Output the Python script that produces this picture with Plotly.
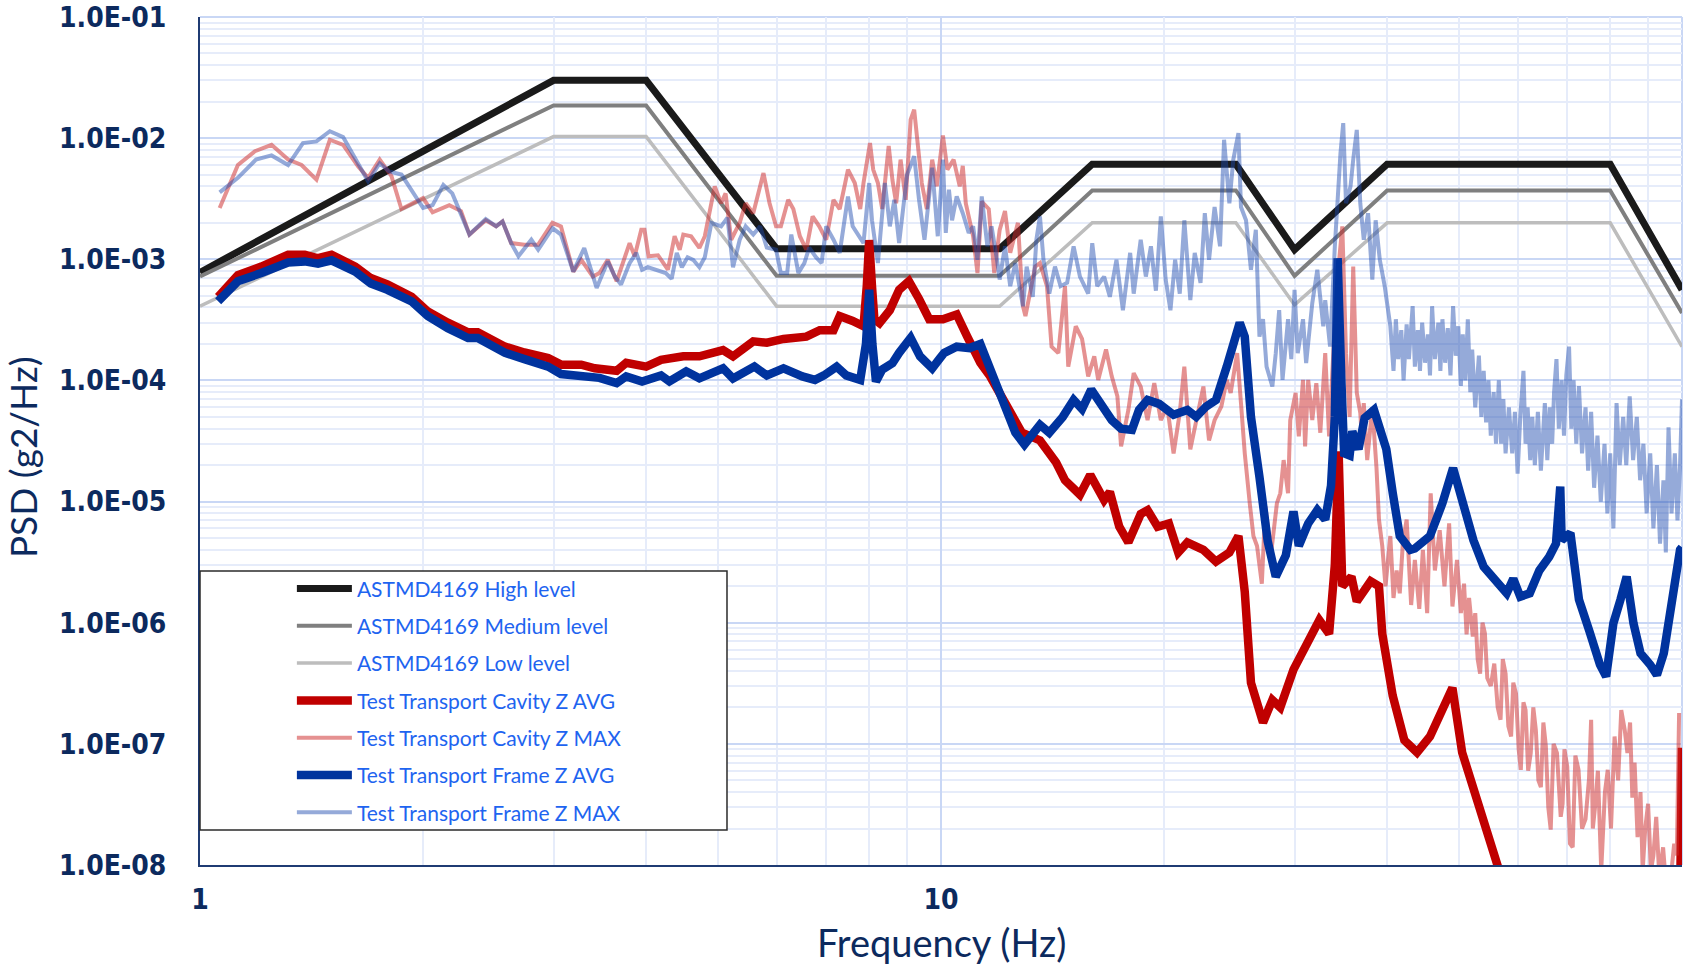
import plotly.graph_objects as go

# ---------------- data ----------------
astm_freq = [1, 3, 4, 6, 12, 16, 25, 30, 40, 80, 100]
astm_high = [0.00078, 0.030, 0.030, 0.00122, 0.00122, 0.0061, 0.0061, 0.0012, 0.0061, 0.0061, 0.00056]
astm_medium = [0.00072, 0.0186, 0.0186, 0.00073, 0.00073, 0.0037, 0.0037, 0.00073, 0.0037, 0.0037, 0.00036]
astm_low = [0.00041, 0.0103, 0.0103, 0.00041, 0.00041, 0.0020, 0.0020, 0.00042, 0.0020, 0.0020, 0.00019]

cavity_avg_f = [1.058, 1.125, 1.21, 1.315, 1.385, 1.443, 1.505, 1.62, 1.70, 1.79, 1.93, 2.03, 2.16, 2.30, 2.37,
                2.58, 2.74, 2.95, 3.07, 3.27, 3.41, 3.55, 3.65, 3.76, 4.0, 4.19, 4.49, 4.72, 5.08, 5.24, 5.58,
                5.82, 6.13, 6.58, 6.86, 7.16, 7.3, 7.6, 7.86, 7.94, 8.0, 8.07, 8.13, 8.26, 8.53, 8.78, 9.05, 9.34,
                9.64, 10.06, 10.5, 10.85, 11.3, 11.65, 12.0, 12.26, 12.86, 13.6, 14.3, 14.7, 15.4, 15.9, 16.6,
                16.9, 17.4, 17.9, 18.6, 19.0, 19.6, 20.3, 20.9, 21.5, 22.6, 23.5, 24.5, 25.2, 25.7, 26.2, 26.9,
                27.2, 28.0, 28.7, 29.9, 31.0, 32.4, 33.4, 34.0, 34.4, 34.8, 35.8, 36.4, 38.0, 39.0, 39.4, 40.7,
                42.2, 43.9, 45.7, 47.6, 49.0, 50.5, 52.8, 55.0, 57.0, 65.0, 80.0, 99.4, 100.0]
cavity_avg_v = [4.9e-4, 7.4e-4, 8.7e-4, 1.09e-3, 1.09e-3, 1.02e-3, 1.09e-3, 8.7e-4, 7.0e-4, 6.2e-4, 4.9e-4, 3.7e-4,
                3.0e-4, 2.5e-4, 2.5e-4, 1.9e-4, 1.7e-4, 1.53e-4, 1.35e-4, 1.35e-4, 1.26e-4, 1.2e-4, 1.2e-4, 1.4e-4,
                1.3e-4, 1.48e-4, 1.58e-4, 1.58e-4, 1.78e-4, 1.58e-4, 2.1e-4, 2.05e-4, 2.2e-4, 2.3e-4, 2.6e-4,
                2.6e-4, 3.4e-4, 3.1e-4, 2.8e-4, 6.0e-4, 1.44e-3, 6.0e-4, 3.2e-4, 2.97e-4, 3.8e-4, 5.6e-4, 6.6e-4,
                4.7e-4, 3.2e-4, 3.2e-4, 3.5e-4, 2.3e-4, 1.4e-4, 1.08e-4, 7.9e-5, 6.5e-5, 3.7e-5, 3.2e-5, 2.1e-5,
                1.5e-5, 1.14e-5, 1.66e-5, 1.03e-5, 1.2e-5, 6.2e-6, 4.6e-6, 7.9e-6, 8.5e-6, 6.2e-6, 6.6e-6, 3.8e-6,
                4.6e-6, 4.0e-6, 3.2e-6, 3.8e-6, 5.2e-6, 1.8e-6, 3.2e-7, 1.7e-7, 1.5e-7, 2.3e-7, 2.0e-7, 4.1e-7,
                6.3e-7, 1.05e-6, 8.1e-7, 3.0e-6, 2.6e-5, 2.0e-6, 2.4e-6, 1.5e-6, 2.2e-6, 2.0e-6, 8.1e-7, 2.5e-7,
                1.07e-7, 8.5e-8, 1.15e-7, 2.0e-7, 2.9e-7, 8.5e-8, 3.6e-8, 1.7e-8, 8.0e-9, 5.0e-9, 4.0e-9, 5.0e-9,
                9.3e-8]

frame_avg_f = [1.058, 1.125, 1.21, 1.315, 1.385, 1.443, 1.505, 1.62, 1.70, 1.79, 1.93, 2.03, 2.16, 2.30, 2.37,
               2.58, 2.74, 2.95, 3.07, 3.27, 3.46, 3.65, 3.76, 3.95, 4.19, 4.3, 4.53, 4.72, 5.08, 5.24, 5.6, 5.82,
               6.13, 6.5, 6.76, 6.95, 7.23, 7.45, 7.78, 7.92, 8.0, 8.08, 8.17, 8.33, 8.6, 8.78, 9.1, 9.37, 9.73,
               9.97, 10.1, 10.5, 10.93, 11.3, 11.75, 12.27, 12.6, 12.96, 13.6, 14.0, 14.6, 15.1, 15.5, 15.95,
               16.5, 17.0, 17.5, 18.1, 18.5, 19.0, 19.7, 20.6, 21.5, 22.1, 22.8, 23.5, 24.3, 24.9, 25.3, 25.7,
               26.2, 26.9, 27.6, 28.3, 29.2, 29.9, 30.4, 31.3, 32.2, 33.0, 33.6, 34.0, 34.3, 34.7, 35.0, 35.6,
               35.9, 36.6, 37.3, 38.4, 39.0, 39.9, 40.7, 41.6, 43.0, 43.6, 45.7, 47.5, 49.1, 50.6, 52.3, 54.0,
               56.3, 58.0, 59.2, 60.5, 62.3, 64.2, 66.2, 67.6, 68.5, 68.8, 70.7, 72.6, 75.0, 77.5, 79.0, 80.8,
               82.6, 84.2, 86.0, 87.9, 90.6, 92.5, 94.5, 96.6, 98.0, 99.4, 100.0]
frame_avg_v = [4.5e-4, 6.6e-4, 7.7e-4, 9.4e-4, 9.6e-4, 9.2e-4, 9.8e-4, 7.9e-4, 6.3e-4, 5.6e-4, 4.5e-4, 3.4e-4,
               2.7e-4, 2.24e-4, 2.24e-4, 1.69e-4, 1.5e-4, 1.3e-4, 1.13e-4, 1.1e-4, 1.05e-4, 9.5e-5, 1.08e-4,
               9.8e-5, 1.1e-4, 9.8e-5, 1.19e-4, 1.04e-4, 1.26e-4, 1.04e-4, 1.3e-4, 1.1e-4, 1.26e-4, 1.08e-4,
               1.01e-4, 1.1e-4, 1.3e-4, 1.1e-4, 1.01e-4, 2.0e-4, 5.6e-4, 2.0e-4, 9.8e-5, 1.23e-4, 1.39e-4,
               1.69e-4, 2.24e-4, 1.58e-4, 1.26e-4, 1.53e-4, 1.69e-4, 1.9e-4, 1.85e-4, 2.0e-4, 1.08e-4, 5.4e-5,
               3.7e-5, 2.96e-5, 4.3e-5, 3.7e-5, 5.0e-5, 6.9e-5, 5.8e-5, 8.4e-5, 6.1e-5, 4.7e-5, 4.0e-5, 3.9e-5,
               5.7e-5, 6.9e-5, 6.4e-5, 5.2e-5, 5.7e-5, 5.0e-5, 6.1e-5, 6.9e-5, 1.3e-4, 2.3e-4, 3.0e-4, 2.3e-4,
               5.0e-5, 1.6e-5, 4.7e-6, 2.4e-6, 3.6e-6, 8.3e-6, 4.3e-6, 6.6e-6, 8.5e-6, 7.1e-6, 1.35e-5, 5.0e-5,
               1.02e-3, 1.0e-4, 2.5e-5, 2.4e-5, 3.8e-5, 2.7e-5, 4.9e-5, 5.7e-5, 4.2e-5, 2.7e-5, 1.18e-5, 5.2e-6,
               4.0e-6, 4.1e-6, 5.2e-6, 9.7e-6, 1.89e-5, 9.7e-6, 4.8e-6, 2.9e-6, 2.1e-6, 1.75e-6, 2.3e-6, 1.64e-6,
               1.75e-6, 2.7e-6, 3.5e-6, 4.5e-6, 1.33e-5, 4.8e-6, 5.5e-6, 1.55e-6, 8.5e-7, 4.5e-7, 3.6e-7, 9.9e-7,
               1.55e-6, 2.4e-6, 9.9e-7, 5.6e-7, 4.5e-7, 3.7e-7, 5.6e-7, 1.36e-6, 2.7e-6, 4.0e-6, 4.2e-6]

cavity_max_f = [1.063, 1.125, 1.186, 1.249, 1.315, 1.371, 1.436, 1.497, 1.56, 1.634, 1.686, 1.748, 1.813, 1.87,
                2.0, 2.06, 2.17, 2.25, 2.31, 2.43, 2.51, 2.56, 2.63, 2.74, 2.86, 2.99, 3.07, 3.19, 3.27, 3.39,
                3.46, 3.55, 3.65, 3.72, 3.8, 3.86, 3.94, 3.98, 4.03, 4.15, 4.28, 4.37, 4.44, 4.49, 4.6, 4.72, 4.8,
                4.95, 5.05, 5.12, 5.21, 5.35, 5.45, 5.58, 5.76, 5.87, 5.99, 6.08, 6.22, 6.32, 6.45, 6.58, 6.71,
                6.85, 7.0, 7.16, 7.3, 7.49, 7.65, 7.78, 7.86, 8.02, 8.10, 8.22, 8.33, 8.5, 8.6, 8.7, 8.82, 8.96,
                9.1, 9.2, 9.27, 9.42, 9.57, 9.73, 9.87, 10.06, 10.2, 10.4, 10.6, 10.7, 10.8, 11.05, 11.2, 11.35,
                11.6, 11.8, 12.0, 12.2, 12.4, 12.7, 12.9, 13.0, 13.4, 13.6, 13.9, 14.1, 14.4, 14.7, 14.85, 15.2,
                15.5, 15.8, 16.1, 16.3, 16.7, 17.0, 17.3, 17.5, 17.9, 18.2, 18.6, 19.0, 19.4, 19.8, 20.2, 20.6,
                21.0, 21.3, 21.7, 22.1, 22.6, 23.0, 23.4, 23.9, 24.3, 24.6, 25.1, 25.4, 25.7, 26.1, 26.4, 26.7,
                27.1, 27.4, 27.9, 28.4, 28.7, 29.0, 29.4, 29.6, 30.1, 30.4, 30.8, 31.0, 31.3, 31.7, 32.1, 32.5,
                33.0, 33.4, 33.8, 34.2, 34.8, 35.2, 35.6, 36.0, 36.4, 36.8, 37.0, 37.2, 37.6, 38.2, 38.7, 39.0,
                39.4, 39.8, 40.4, 40.8, 41.2, 41.6, 42.0, 42.5, 43.1, 43.6, 44.2, 44.7, 45.3, 45.8, 46.4, 47.1,
                47.8, 48.5, 49.0, 49.7, 50.3, 50.8, 51.2, 51.6, 52.2, 52.6, 53.0, 53.4, 53.8, 54.2, 54.6, 55.2,
                55.8, 56.4, 56.9, 57.3, 57.8, 58.3, 58.8, 59.2, 59.7, 60.2, 60.6, 61.1, 61.5, 62.0, 62.5, 63.0,
                63.5, 64.0, 64.5, 65.0, 65.5, 66.0, 66.5, 67.1, 67.8, 68.6, 69.0, 69.4, 70.0, 70.6, 71.2, 71.8,
                72.5, 73.3, 74.1, 74.9, 75.4, 75.8, 76.4, 77.0, 77.8, 78.7, 79.4, 80.2, 81.1, 82.0, 82.8, 83.7,
                84.4, 85.1, 85.7, 86.3, 87.1, 87.9, 88.5, 89.2, 90.0, 90.8, 91.5, 92.3, 93.2, 94.3, 95.3, 96.4,
                97.6, 98.4, 99.1, 100.0]
cavity_max_v = [2.65e-3, 6.0e-3, 7.8e-3, 8.8e-3, 6.65e-3, 6.0e-3, 4.55e-3, 9.7e-3, 8.8e-3, 5.85e-3, 4.7e-3,
                6.65e-3, 4.85e-3, 2.6e-3, 3.2e-3, 2.44e-3, 2.8e-3, 2.5e-3, 1.6e-3, 2.1e-3, 1.87e-3, 2.05e-3,
                1.36e-3, 1.32e-3, 1.32e-3, 2.0e-3, 1.87e-3, 7.9e-4, 9.9e-4, 7.2e-4, 7.7e-4, 9.9e-4, 6.6e-4,
                9.3e-4, 1.36e-3, 1.06e-3, 1.75e-3, 1.75e-3, 1.06e-3, 1.08e-3, 8.2e-4, 1.55e-3, 1.2e-3, 1.6e-3,
                1.55e-3, 1.24e-3, 1.55e-3, 4.0e-3, 2.9e-3, 3.5e-3, 1.45e-3, 2.0e-3, 2.9e-3, 2.4e-3, 5.15e-3,
                2.9e-3, 1.87e-3, 1.87e-3, 3.1e-3, 2.6e-3, 1.55e-3, 1.2e-3, 2.26e-3, 1.87e-3, 1.45e-3, 3.1e-3,
                2.6e-3, 5.5e-3, 4.26e-3, 2.6e-3, 4.26e-3, 9.1e-3, 5.5e-3, 4.26e-3, 2.6e-3, 8.6e-3, 4.5e-3, 2.9e-3,
                6.65e-3, 3.1e-3, 1.42e-2, 1.72e-2, 1.1e-2, 4.26e-3, 2.6e-3, 6.65e-3, 4.0e-3, 1.05e-2, 5.5e-3,
                6.65e-3, 4.0e-3, 5.9e-3, 2.9e-3, 1.55e-3, 7.7e-4, 3.0e-3, 2.6e-3, 7.7e-4, 1.75e-3, 2.5e-3, 1.13e-3,
                2.0e-3, 4.1e-4, 3.4e-4, 8.7e-4, 9.3e-4, 6.0e-4, 1.9e-4, 1.68e-4, 6.0e-4, 1.3e-4, 2.8e-4, 2.2e-4,
                1.08e-4, 1.58e-4, 1.01e-4, 1.8e-4, 1.08e-4, 7.4e-5, 2.85e-5, 5.7e-5, 1.15e-4, 8.9e-5, 4.7e-5,
                9.5e-5, 4.7e-5, 6.1e-5, 2.5e-5, 5.4e-5, 1.3e-4, 2.7e-5, 4.7e-5, 8.9e-5, 3.2e-5, 4.7e-5, 6.1e-5,
                1.01e-4, 7.9e-5, 1.68e-4, 6.5e-5, 2.5e-5, 9.7e-6, 5.2e-6, 4.3e-6, 2.1e-6, 9.1e-6, 3.8e-6, 9.7e-6,
                1.17e-5, 2.2e-5, 1.17e-5, 4.7e-5, 7.9e-5, 3.45e-5, 1.01e-4, 2.85e-5, 1.01e-4, 4.7e-5, 9.5e-5,
                3.7e-5, 1.68e-4, 3.45e-5, 1.5e-4, 6.0e-4, 1.87e-3, 1.68e-4, 5.0e-5, 8.7e-4, 7.9e-5, 5.4e-5, 3.2e-5,
                6.5e-5, 2.2e-5, 6.0e-5, 1.9e-5, 7.1e-6, 4.3e-6, 2.0e-6, 5.2e-6, 1.6e-6, 2.7e-6, 1.75e-6, 4.5e-6,
                7.1e-6, 1.4e-6, 3.3e-6, 1.3e-6, 4.0e-6, 1.2e-6, 1.17e-5, 2.7e-6, 5.8e-6, 2.0e-6, 6.6e-6, 1.36e-6,
                3.3e-6, 1.2e-6, 2.1e-6, 8.0e-7, 1.6e-6, 7.7e-7, 1.2e-6, 5.0e-7, 3.8e-7, 1.0e-6, 8.2e-7, 3.5e-7,
                3.0e-7, 4.6e-7, 2.0e-7, 1.58e-7, 5.0e-7, 3.8e-7, 1.4e-7, 1.15e-7, 3.2e-7, 2.6e-7, 9.0e-8, 6.1e-8,
                2.2e-7, 1.9e-7, 6.0e-8, 8.4e-8, 2.0e-7, 1.3e-7, 5.0e-8, 4.4e-8, 1.5e-7, 9.6e-8, 3.0e-8, 1.96e-8,
                1.0e-7, 8.4e-8, 2.5e-8, 3.2e-8, 9.0e-8, 6.5e-8, 1.5e-8, 1.4e-8, 8.0e-8, 6.1e-8, 2.0e-8, 2.4e-8,
                5.1e-8, 1.58e-7, 2.0e-8, 3.2e-8, 6.0e-8, 9.0e-9, 4.0e-8, 6.1e-8, 2.0e-8, 1.15e-7, 5.0e-8, 1.9e-7,
                1.3e-7, 8.4e-8, 1.5e-7, 3.6e-8, 7.0e-8, 1.7e-8, 4.0e-8, 9.0e-9, 2.0e-8, 3.2e-8, 9.0e-9, 1.2e-8,
                2.5e-8, 8.0e-9, 1.4e-8, 6.0e-9, 7.0e-9, 1.5e-8, 1.2e-8, 1.8e-7]

frame_max_f = [1.063, 1.125, 1.19, 1.249, 1.315, 1.377, 1.436, 1.497, 1.56, 1.62, 1.686, 1.748, 1.80, 1.87, 1.93,
               2.0, 2.06, 2.13, 2.19, 2.31, 2.43, 2.51, 2.56, 2.63, 2.69, 2.80, 2.86, 2.99, 3.07, 3.19, 3.30, 3.43,
               3.55, 3.63, 3.7, 3.8, 3.88, 3.95, 4.02, 4.13, 4.25, 4.33, 4.4, 4.47, 4.55, 4.63, 4.72, 4.8, 4.9,
               5.05, 5.15, 5.24, 5.35, 5.45, 5.58, 5.7, 5.82, 5.99, 6.08, 6.2, 6.28, 6.42, 6.54, 6.64, 6.78, 6.9,
               7.0, 7.16, 7.3, 7.49, 7.6, 7.86, 8.0, 8.07, 8.22, 8.4, 8.53, 8.65, 8.78, 9.0, 9.2, 9.34, 9.5, 9.73,
               9.9, 10.06, 10.15, 10.25, 10.35, 10.5, 10.7, 10.9, 11.05, 11.2, 11.35, 11.55, 11.7, 11.9, 12.0,
               12.2, 12.4, 12.6, 12.9, 13.05, 13.3, 13.45, 13.6, 13.75, 14.0, 14.25, 14.5, 14.8, 15.1, 15.4, 15.8,
               16.0, 16.25, 16.6, 16.9, 17.25, 17.6, 18.0, 18.2, 18.6, 18.9, 19.2, 19.5, 19.8, 20.1, 20.4, 20.7,
               21.0, 21.3, 21.7, 22.0, 22.4, 22.7, 23.0, 23.4, 23.8, 24.1, 24.5, 24.8, 25.2, 25.4, 25.8, 26.2,
               26.6, 26.9, 27.2, 27.5, 28.0, 28.3, 28.6, 28.9, 29.4, 29.7, 30.0, 30.3, 30.8, 31.1, 31.7, 32.2,
               32.8, 33.0, 33.5, 34.0, 34.6, 34.9, 35.2, 35.7, 36.0, 36.4, 36.8, 37.2, 37.7, 38.2, 38.6, 39.1,
               39.7, 40.4, 40.8, 41.1, 41.4, 41.8, 42.1, 42.5, 42.8, 43.3, 43.6, 44.0, 44.3, 44.6, 45.0, 45.4,
               45.7, 46.0, 46.4, 46.9, 47.2, 47.5, 47.9, 48.3, 48.7, 49.1, 49.5, 49.9, 50.3, 50.6, 51.0, 51.4,
               51.8, 52.1, 52.6, 53.2, 53.6, 54.0, 54.4, 54.8, 55.2, 55.7, 56.1, 56.6, 57.0, 57.4, 57.8, 58.4,
               59.0, 59.5, 60.0, 60.5, 61.1, 61.5, 61.9, 62.4, 62.8, 63.3, 63.9, 64.5, 65.3, 65.8, 66.3, 66.8,
               67.2, 67.7, 68.2, 68.8, 69.3, 69.8, 70.4, 70.9, 71.4, 72.0, 72.6, 73.3, 74.1, 74.7, 75.4, 76.1,
               76.9, 77.7, 78.6, 79.3, 80.0, 80.8, 81.6, 82.4, 83.3, 84.1, 85.0, 85.9, 86.9, 87.8, 88.7, 89.6,
               90.6, 91.5, 92.5, 93.4, 94.4, 95.1, 95.9, 96.8, 97.8, 98.6, 99.4, 100.0]
frame_max_v = [3.57e-3, 4.7e-3, 6.65e-3, 7.2e-3, 6.0e-3, 9.1e-3, 9.4e-3, 1.14e-2, 1.02e-2, 6.65e-3, 4.4e-3, 6.2e-3,
               5.3e-3, 5.0e-3, 3.76e-3, 2.65e-3, 2.8e-3, 4.1e-3, 3.5e-3, 1.6e-3, 2.15e-3, 1.87e-3, 2.05e-3,
               1.36e-3, 1.06e-3, 1.45e-3, 1.2e-3, 1.81e-3, 1.6e-3, 7.9e-4, 1.24e-3, 5.8e-4, 9.6e-4, 7.2e-4,
               6.2e-4, 9.3e-4, 1.13e-3, 8.2e-4, 8.6e-4, 8.2e-4, 7.7e-4, 6.9e-4, 1.13e-3, 8.6e-4, 1.04e-3, 9.9e-4,
               8.6e-4, 1.04e-3, 2.0e-3, 1.87e-3, 2.2e-3, 8.6e-4, 1.45e-3, 1.87e-3, 1.6e-3, 1.87e-3, 1.25e-3,
               1.2e-3, 7.7e-4, 7.7e-4, 1.6e-3, 7.7e-4, 9.3e-4, 1.25e-3, 1.04e-3, 9.3e-4, 1.87e-3, 1.45e-3,
               1.13e-3, 3.3e-3, 1.87e-3, 1.36e-3, 4.26e-3, 2.1e-3, 9.3e-4, 4.26e-3, 1.87e-3, 3.1e-3, 1.36e-3,
               5.0e-3, 7.1e-3, 3.1e-3, 1.45e-3, 5.7e-3, 1.55e-3, 6.65e-3, 1.65e-3, 3.76e-3, 2.1e-3, 3.3e-3,
               2.4e-3, 1.65e-3, 1.87e-3, 9.9e-4, 3.3e-3, 1.28e-3, 1.87e-3, 9.9e-4, 6.8e-4, 1.28e-3, 6.0e-4, 9.3e-4,
               4.1e-4, 8.7e-4, 4.9e-4, 1.45e-3, 2.26e-3, 9.9e-4, 5.2e-4, 8.7e-4, 6.0e-4, 6.4e-4, 1.28e-3, 7.2e-4,
               5.2e-4, 1.36e-3, 6.0e-4, 7.2e-4, 4.9e-4, 9.9e-4, 3.8e-4, 1.13e-3, 5.2e-4, 1.45e-3, 7.2e-4, 1.28e-3,
               5.5e-4, 2.26e-3, 6.8e-4, 3.8e-4, 9.9e-4, 5.2e-4, 2.1e-3, 4.6e-4, 1.13e-3, 6.4e-4, 2.4e-3, 9.9e-4,
               2.7e-3, 1.28e-3, 9.7e-3, 2.9e-3, 6.65e-3, 1.1e-2, 2.7e-3, 2.1e-3, 8.2e-4, 1.75e-3, 2.3e-4, 3.2e-4,
               1.3e-4, 8.9e-5, 1.68e-4, 3.8e-4, 1.01e-4, 3.2e-4, 1.5e-4, 5.6e-4, 1.68e-4, 3.2e-4, 1.39e-4, 4.35e-4,
               8.2e-4, 2.8e-4, 4.6e-4, 1.9e-4, 1.28e-3, 7.5e-3, 1.33e-2, 2.9e-3, 4.0e-3, 6.65e-3, 1.17e-2, 2.9e-3,
               1.45e-3, 2.4e-3, 6.8e-4, 2.1e-3, 9.9e-4, 6.0e-4, 2.8e-4, 1.2e-4, 3.2e-4, 1.5e-4, 2.6e-4, 1.0e-4,
               2.9e-4, 1.5e-4, 4.1e-4, 1.3e-4, 2.6e-4, 1.2e-4, 3.0e-4, 1.4e-4, 2.4e-4, 1.1e-4, 4.1e-4, 1.5e-4,
               3.0e-4, 1.2e-4, 3.2e-4, 1.4e-4, 2.7e-4, 1.1e-4, 4.1e-4, 1.6e-4, 2.8e-4, 9.0e-5, 2.4e-4, 1.0e-4,
               3.2e-4, 8.0e-5, 1.8e-4, 6.0e-5, 1.6e-4, 5.0e-5, 1.2e-4, 4.5e-5, 1.0e-4, 3.5e-5, 8.0e-5, 3.0e-5,
               1.0e-4, 3.0e-5, 7.0e-5, 2.5e-5, 6.0e-5, 2.5e-5, 5.5e-5, 1.7e-5, 5.0e-5, 1.2e-4, 3.0e-5, 6.0e-5,
               2.2e-5, 5.0e-5, 2.0e-5, 5.5e-5, 1.8e-5, 6.5e-5, 2.2e-5, 6.0e-5, 3.0e-5, 8.0e-5, 1.5e-4, 4.0e-5,
               1.0e-4, 3.5e-5, 1.1e-4, 1.9e-4, 4.0e-5, 1.0e-4, 3.0e-5, 9.0e-5, 2.5e-5, 6.0e-5, 1.8e-5, 5.5e-5,
               1.3e-5, 3.5e-5, 1.0e-5, 3.0e-5, 8.0e-6, 2.5e-5, 6.0e-6, 6.5e-5, 2.0e-5, 5.0e-5, 2.0e-5, 7.4e-5,
               2.2e-5, 5.0e-5, 1.5e-5, 3.0e-5, 8.0e-6, 2.5e-5, 6.0e-6, 2.0e-5, 4.5e-6, 1.5e-5, 3.8e-6, 4.1e-5,
               8.0e-6, 2.5e-5, 7.0e-6, 2.0e-5, 7.0e-5]

y_tickvals = [1e-8, 1e-7, 1e-6, 1e-5, 1e-4, 1e-3, 1e-2, 1e-1]
y_ticktext = ["1.0E-08", "1.0E-07", "1.0E-06", "1.0E-05", "1.0E-04", "1.0E-03", "1.0E-02", "1.0E-01"]
x_tickvals = [1, 10, 100]
x_ticktext = ["1", "10", "100"]

# ---------------- figure ----------------
NAVY = "#0C2A5E"
MAJOR_GRID = "#C9D7F5"
MINOR_GRID = "#E6ECFA"

fig = go.Figure()

series = [
    ("ASTMD4169 High level", astm_freq, astm_high, "#1A1A1A", 7),
    ("ASTMD4169 Medium level", astm_freq, astm_medium, "#7F7F7F", 4),
    ("ASTMD4169 Low level", astm_freq, astm_low, "#BDBDBD", 3.5),
    ("Test Transport Cavity Z AVG", cavity_avg_f, cavity_avg_v, "#C00000", 8.5),
    ("Test Transport Cavity Z MAX", cavity_max_f, cavity_max_v, "rgba(205,45,45,0.52)", 4),
    ("Test Transport Frame Z AVG", frame_avg_f, frame_avg_v, "#00339E", 8.5),
    ("Test Transport Frame Z MAX", frame_max_f, frame_max_v, "rgba(30,75,175,0.47)", 4),
]
for i, (name, fx, fy, col, w) in enumerate(series):
    fig.add_trace(go.Scatter(x=fx, y=fy, mode="lines", name=name, legendgroup=f"g{i}",
                             line=dict(color=col, width=w), hoverinfo="skip"))

tick_font = dict(family="Liberation Sans Narrow, DejaVu Sans Condensed, Lato", size=28,
                 color=NAVY, weight="bold")

fig.update_xaxes(type="log", range=[0, 2], tickmode="array", tickvals=x_tickvals, ticktext=x_ticktext,
                 showgrid=True, gridcolor=MAJOR_GRID, gridwidth=1.5,
                 minor=dict(dtick="D1", showgrid=True, gridcolor=MINOR_GRID, gridwidth=1.5),
                 showline=True, linecolor="#1F3B73", linewidth=2, ticks="", zeroline=False,
                 tickfont=tick_font, ticklabelstandoff=8, automargin=False)
fig.update_yaxes(type="log", range=[-8, -1], tickmode="array", tickvals=y_tickvals, ticktext=y_ticktext,
                 showgrid=True, gridcolor=MAJOR_GRID, gridwidth=1.5,
                 minor=dict(dtick="D1", showgrid=True, gridcolor=MINOR_GRID, gridwidth=1.5),
                 showline=True, linecolor="#1F3B73", linewidth=2, ticks="", zeroline=False,
                 tickfont=tick_font, ticklabelstandoff=26, automargin=False)

# light plot border on top / right
fig.add_shape(type="line", xref="paper", yref="paper", x0=0, x1=1, y0=1, y1=1,
              line=dict(color=MAJOR_GRID, width=2), layer="below")
fig.add_shape(type="line", xref="paper", yref="paper", x0=1, x1=1, y0=0, y1=1,
              line=dict(color=MAJOR_GRID, width=2), layer="below")

# legend frame
fig.add_shape(type="rect", xref="paper", yref="paper", x0=0.0, x1=0.3556, y0=0.0413, y1=0.3467,
              fillcolor="white", line=dict(color="#2B2B2B", width=1.5), layer="above")

fig.add_annotation(text="Frequency (Hz)", xref="paper", yref="paper", x=0.5, y=-0.0908,
                   xanchor="center", yanchor="middle", showarrow=False,
                   font=dict(family="Lato", size=38, color=NAVY))
fig.add_annotation(text="PSD (g2/Hz)", xref="paper", yref="paper", x=-0.1201, y=0.481,
                   xanchor="center", yanchor="middle", showarrow=False, textangle=-90,
                   font=dict(family="Lato", size=37, color=NAVY))

fig.update_layout(
    width=1706, height=967,
    margin=dict(l=200, r=24, t=17, b=102),
    paper_bgcolor="white", plot_bgcolor="white",
    showlegend=True,
    legend=dict(x=0.062, y=0.3498, xanchor="left", yanchor="top", itemwidth=55,
                bgcolor="rgba(0,0,0,0)", borderwidth=0, tracegroupgap=7,
                font=dict(family="Lato", size=21, color="#1E64F0")),
)

fig.write_html("out.html")
